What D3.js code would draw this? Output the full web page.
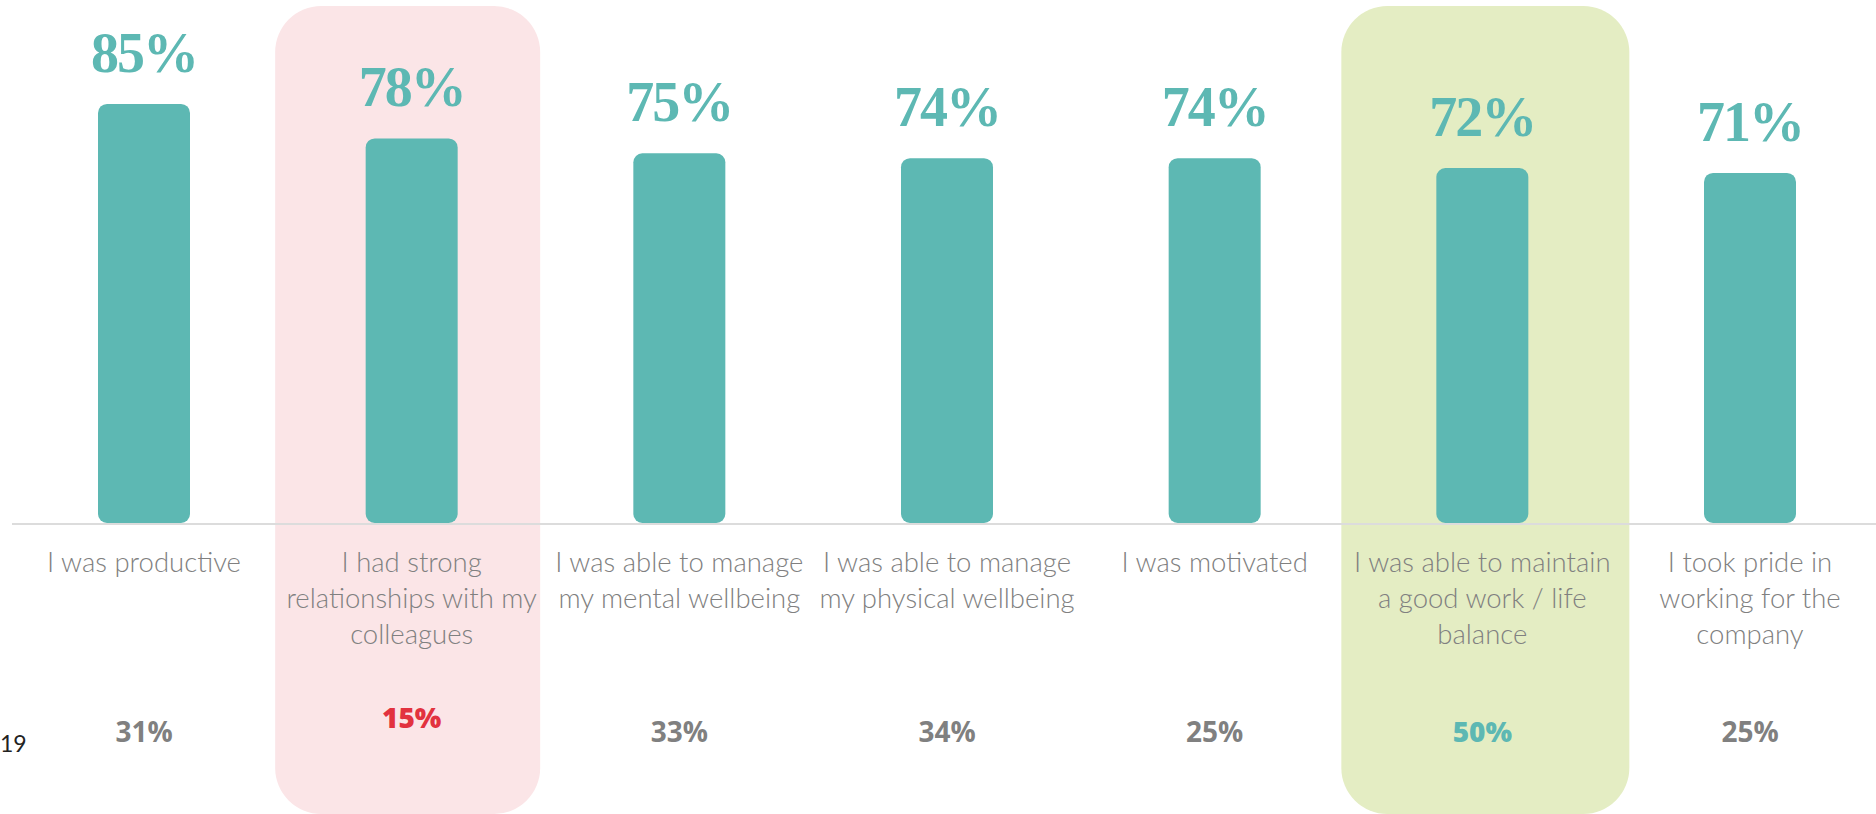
<!DOCTYPE html>
<html>
<head>
<meta charset="utf-8">
<script src="https://cdn.jsdelivr.net/npm/d3@7"></script>
<style>
  html, body { margin: 0; padding: 0; background: #fff; overflow: hidden; }
</style>
</head>
<body>
<div id="viz"></div>
<script>
(function wellbeingChart() {
  const svgWidth = 1876;
  const svgHeight = 814;

  const tealColor = '#5db8b3';
  const greyColor = '#808080';
  const redColor = '#e2323f';

  // data
  const categories = ['productive', 'relationships', 'mental', 'physical', 'motivated', 'balance', 'pride'];
  const labelLines = [
    ['I was productive'],
    ['I had strong', 'relationships with my', 'colleagues'],
    ['I was able to manage', 'my mental wellbeing'],
    ['I was able to manage', 'my physical wellbeing'],
    ['I was motivated'],
    ['I was able to maintain', 'a good work / life', 'balance'],
    ['I took pride in', 'working for the', 'company'],
  ];
  const values = [85, 78, 75, 74, 74, 72, 71];
  const compareValues = [31, 15, 33, 34, 25, 50, 25];
  const highlights = [
    { category: 'relationships', kind: 'low' },
    { category: 'balance', kind: 'high' },
  ];
  const sideLabel = '19';

  const highlightStyle = {
    low: { fill: '#fbe5e7', text: redColor, width: 265, dx: -4, dy: -14 },
    high: { fill: '#e4edc3', text: tealColor, width: 288, dx: 3, dy: 0 },
  };

  const baseline = 523;
  const x = d3.scalePoint()
    .domain(categories)
    .range([144, 1750]);

  const y = d3.scaleLinear()
    .domain([0, 100])
    .range([baseline, baseline - 493]);

  const barWidth = 92;

  const svg = d3.select('#viz').append('svg')
    .attr('width', svgWidth)
    .attr('height', svgHeight);

  const g = svg.append('g');

  // highlight panels
  g.append('g').attr('class', 'highlights')
    .selectAll('rect')
    .data(highlights)
    .enter()
    .append('rect')
    .attr('x', d => x(d.category) + highlightStyle[d.kind].dx - highlightStyle[d.kind].width / 2)
    .attr('y', 6)
    .attr('width', d => highlightStyle[d.kind].width)
    .attr('height', 808)
    .attr('rx', 46)
    .style('fill', d => highlightStyle[d.kind].fill);

  // axis line
  g.append('line')
    .attr('x1', 12)
    .attr('x2', svgWidth)
    .attr('y1', baseline + 1)
    .attr('y2', baseline + 1)
    .attr('stroke', '#dcdcdc')
    .attr('stroke-width', 2);

  const rows = categories.map((c, i) => ({
    category: c,
    value: values[i],
    compare: compareValues[i],
    lines: labelLines[i],
    hl: (highlights.find(h => h.category === c) || {}).kind,
  }));

  // bars
  g.append('g').attr('class', 'bars')
    .selectAll('rect')
    .data(rows)
    .enter()
    .append('rect')
    .attr('x', d => x(d.category) - barWidth / 2)
    .attr('y', d => y(d.value))
    .attr('width', barWidth)
    .attr('height', d => y(0) - y(d.value))
    .attr('rx', 9)
    .style('fill', tealColor);

  // value labels
  g.append('g').attr('class', 'values')
    .selectAll('text')
    .data(rows)
    .enter()
    .append('text')
    .text(d => `${d.value}%`)
    .attr('x', d => x(d.category))
    .attr('y', d => y(d.value) - 32)
    .style('text-anchor', 'middle')
    .style('font-family', '"Liberation Serif", "DejaVu Serif", serif')
    .style('font-weight', 700)
    .style('font-size', '56px')
    .style('letter-spacing', '-2px')
    .style('fill', tealColor);

  // category labels
  const labels = g.append('g').attr('class', 'labels')
    .selectAll('text')
    .data(rows)
    .enter()
    .append('text')
    .attr('x', d => x(d.category))
    .attr('y', 572)
    .style('text-anchor', 'middle')
    .style('font-family', 'Lato, "Open Sans", sans-serif')
    .style('font-weight', 300)
    .style('font-size', '27.5px')
    .style('fill', greyColor);

  labels.selectAll('tspan')
    .data(d => d.lines.map(l => ({ line: l, cx: x(d.category) })))
    .enter()
    .append('tspan')
    .attr('x', d => d.cx)
    .attr('dy', (d, i) => (i === 0 ? 0 : 36))
    .text(d => d.line);

  // comparison percentages
  g.append('g').attr('class', 'compare')
    .selectAll('text')
    .data(rows)
    .enter()
    .append('text')
    .text(d => `${d.compare}%`)
    .attr('x', d => x(d.category))
    .attr('y', d => 742 + (d.hl ? highlightStyle[d.hl].dy : 0))
    .style('text-anchor', 'middle')
    .style('font-family', '"Open Sans", Lato, sans-serif')
    .style('font-weight', d => (d.hl ? 800 : 700))
    .style('font-size', '28px')
    .style('fill', d => (d.hl ? highlightStyle[d.hl].text : greyColor));

  // year label at the left edge
  g.append('text')
    .text(sideLabel)
    .attr('x', 0)
    .attr('y', 752)
    .style('font-family', 'Lato, sans-serif')
    .style('font-size', '23px')
    .style('fill', '#222');
}());
</script>
</body>
</html>
